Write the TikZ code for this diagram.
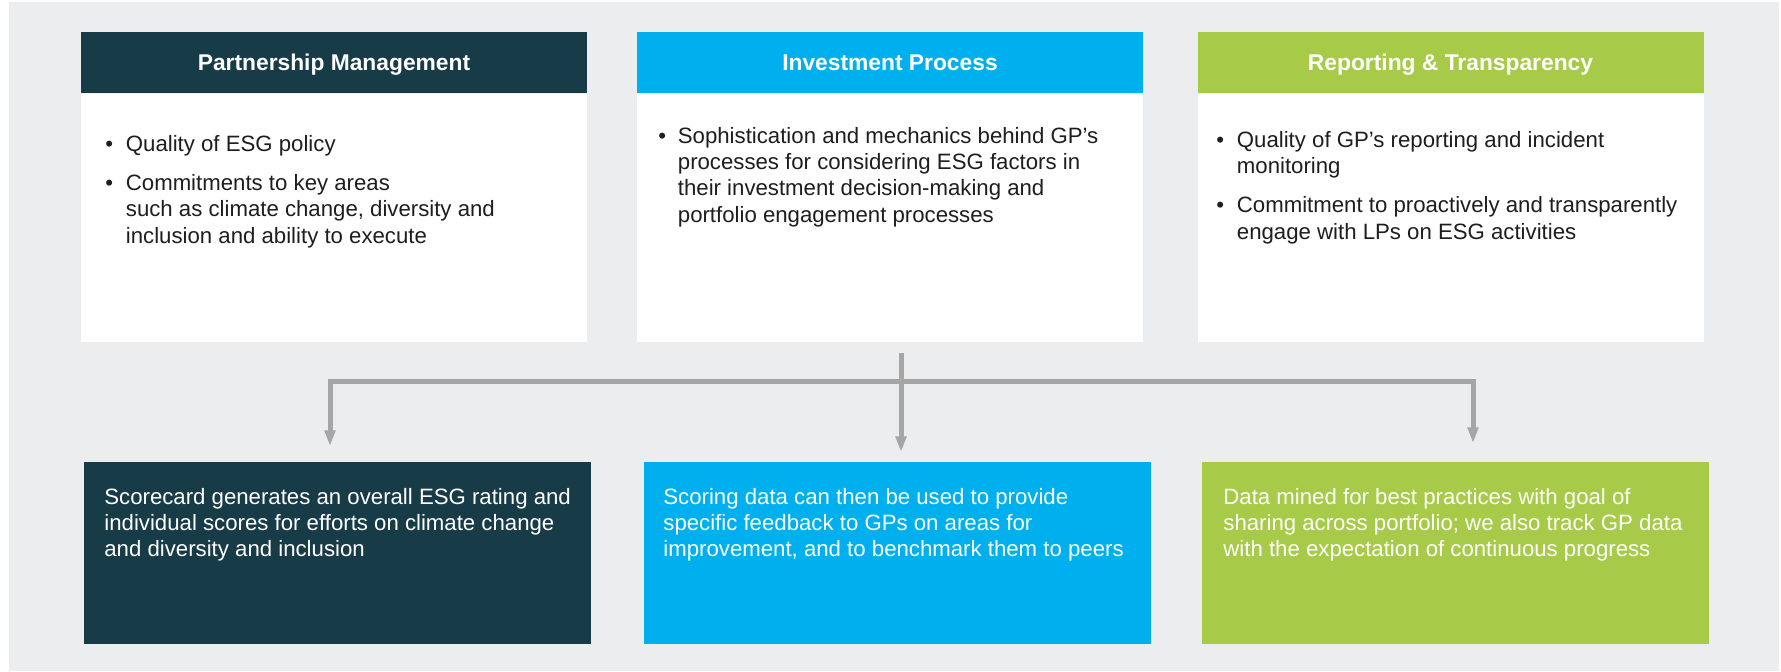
\documentclass[tikz,border=0pt]{standalone}
\usepackage{fontspec}
\setmainfont{Liberation Sans}
\usetikzlibrary{positioning,arrows.meta}

\definecolor{pmteal}{HTML}{173B47}
\definecolor{ipcyan}{HTML}{00B0EE}
\definecolor{rtgreen}{HTML}{A7CB48}
\definecolor{panelgray}{HTML}{ECEDEF}
\definecolor{linkgray}{HTML}{A6A6A6}
\definecolor{bodytext}{HTML}{1E1E1E}

\tikzset{
  headbox/.style={minimum width=253pt, minimum height=30.5pt, inner sep=0pt,
    text=white, text height=8.3pt, text depth=0pt,
    font=\fontsize{11.4}{13.7}\selectfont\bfseries},
  card/.style={fill=white, minimum width=253pt, minimum height=124pt, inner sep=0pt},
  note/.style={minimum width=253.5pt, minimum height=91pt, inner sep=0pt},
  txt/.style={anchor=base west, inner sep=0pt, font=\fontsize{11.1}{13.2}\selectfont},
  link/.style={draw=linkgray, line width=2.5pt, line join=miter},
  linkarrow/.style={-{Triangle[length=7.8pt,width=5.2pt]}},
}

\begin{document}
\begin{tikzpicture}[x=0.5pt, y=-0.5pt]
\useasboundingbox (0,0) rectangle (1781,671);
\fill[panelgray] (9,2) rectangle (1779,671);

% top row
\node[headbox, fill=pmteal] (pmhead) at (334,62.5) {Partnership Management};
\node[card, below=0pt of pmhead] (pmcard) {};
\node[headbox, fill=ipcyan] (iphead) at (890,62.5) {Investment Process};
\node[card, below=0pt of iphead] (ipcard) {};
\node[headbox, fill=rtgreen] (rthead) at (1450.5,62.5) {Reporting \& Transparency};
\node[card, below=0pt of rthead] (rtcard) {};

\node[txt, text=bodytext] (pmtext) at (105,151) {\begin{tabular}[t]{@{}p{10.25pt}@{}l@{}}
\textbullet & Quality of ESG policy\\[6.5pt]
\textbullet & Commitments to key areas\\
 & such as climate change, diversity and\\
 & inclusion and ability to execute
\end{tabular}};
\node[txt, text=bodytext] (iptext) at (658,143) {\begin{tabular}[t]{@{}p{9.75pt}@{}l@{}}
\textbullet & Sophistication and mechanics behind GP’s\\
 & processes for considering ESG factors in\\
 & their investment decision-making and\\
 & portfolio engagement processes
\end{tabular}};
\node[txt, text=bodytext] (rttext) at (1216,147) {\begin{tabular}[t]{@{}p{10.25pt}@{}l@{}}
\textbullet & Quality of GP’s reporting and incident\\
 & monitoring\\[6.5pt]
\textbullet & Commitment to proactively and transparently\\
 & engage with LPs on ESG activities
\end{tabular}};

% bottom row
\node[note, fill=pmteal] (pmnote) at (337.5,553) {};
\node[note, fill=ipcyan] (ipnote) at (897,553) {};
\node[note, fill=rtgreen] (rtnote) at (1455.5,553) {};

\node[txt, text=white] (pmnotetext) at (104,504) {\begin{tabular}[t]{@{}l@{}}
Scorecard generates an overall ESG rating and\\
individual scores for efforts on climate change\\
and diversity and inclusion
\end{tabular}};
\node[txt, text=white] (ipnotetext) at (663,504) {\begin{tabular}[t]{@{}l@{}}
Scoring data can then be used to provide\\
specific feedback to GPs on areas for\\
improvement, and to benchmark them to peers
\end{tabular}};
\node[txt, text=white] (rtnotetext) at (1223,504) {\begin{tabular}[t]{@{}l@{}}
Data mined for best practices with goal of\\
sharing across portfolio; we also track GP data\\
with the expectation of continuous progress
\end{tabular}};

% connectors
\coordinate (stem) at (901,353);
\coordinate (hub) at (901,381);
\coordinate (pmin) at (330,446);
\coordinate (ipin) at (901,452);
\coordinate (rtin) at (1473,443);
\draw[link] (stem) -- (hub);
\draw[link, linkarrow] (hub) -| (pmin);
\draw[link, linkarrow] (hub) -- (ipin);
\draw[link, linkarrow] (hub) -| (rtin);
\end{tikzpicture}
\end{document}
